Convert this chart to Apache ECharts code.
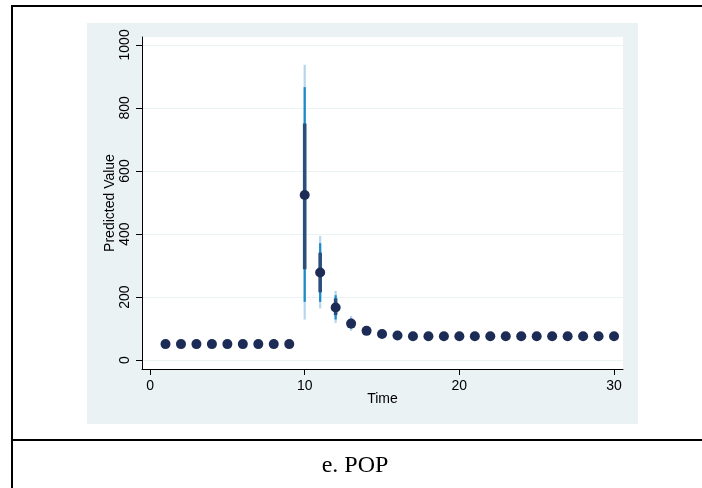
<!DOCTYPE html>
<html>
<head>
<meta charset="utf-8">
<script src="https://cdn.jsdelivr.net/npm/echarts@6/dist/echarts.min.js"></script>
<style>
html,body{margin:0;padding:0;background:#fff;}
#c{width:702px;height:488px;}
</style>
</head>
<body>
<div id="c"></div>
<script>
// ---- data ----
var times = [1,2,3,4,5,6,7,8,9,10,11,12,13,14,15,16,17,18,19,20,21,22,23,24,25,26,27,28,29,30];
var predicted = [51,51,51,51,51,51,51,51,51,524,278,167,116,93,83,78,76,76,76,76,76,76,76,76,76,76,76,76,76,76];
// 99% CI (outer, light)
var ciOuterLo = [49,49,49,49,49,49,49,49,49,129,164,118,93,84,77,73,72,72,72,72,72,72,72,72,72,72,72,72,72,72];
var ciOuterHi = [53,53,53,53,53,53,53,53,53,937,394,220,140,102,89,83,80,80,80,80,80,80,80,80,80,80,80,80,80,80];
// 95% CI (middle)
var ciMidLo = [50,50,50,50,50,50,50,50,50,185,185,129,100,86,79,75,73,73,73,73,73,73,73,73,73,73,73,73,73,73];
var ciMidHi = [52,52,52,52,52,52,52,52,52,866,371,206,132,100,87,81,79,79,79,79,79,79,79,79,79,79,79,79,79,79];
// 83% CI (inner, thick)
var ciInLo = [50,50,50,50,50,50,50,50,50,288,215,143,106,88,80,76,74,74,74,74,74,74,74,74,74,74,74,74,74,74];
var ciInHi = [52,52,52,52,52,52,52,52,52,751,341,196,125,98,86,80,78,78,78,78,78,78,78,78,78,78,78,78,78,78];
var yTicks = [0,200,400,600,800,1000];
var xTicks = [0,10,20,30];
var caption = 'e. POP';

var ciData = times.map(function(t,i){
  return [t, ciOuterLo[i], ciOuterHi[i], ciMidLo[i], ciMidHi[i], ciInLo[i], ciInHi[i]];
});
var ptData = times.map(function(t,i){ return [t, predicted[i]]; });

var chart = echarts.init(document.getElementById('c'), null, {renderer:'canvas'});
var font = '"Liberation Sans", Arial, Helvetica, sans-serif';

function renderCI(params, api){
  var t = api.value(0);
  var specs = [
    [1,2,'#b5d6ee',2.2],
    [3,4,'#1a8bc6',2.2],
    [5,6,'#2b4f7c',3.6]
  ];
  var children = specs.map(function(s){
    var p1 = api.coord([t, api.value(s[0])]);
    var p2 = api.coord([t, api.value(s[1])]);
    return {type:'line', shape:{x1:p1[0],y1:p1[1],x2:p2[0],y2:p2[1]},
            style:{stroke:s[2], lineWidth:s[3]}};
  });
  return {type:'group', children:children};
}

var option = {
  animation:false,
  backgroundColor:'#ffffff',
  graphic:[
    {type:'rect', z:-10, silent:true, shape:{x:87,y:23,width:551,height:401}, style:{fill:'#eaf2f3'}},
    {type:'line', silent:true, shape:{x1:11,y1:6,x2:702,y2:6}, style:{stroke:'#000',lineWidth:2}},
    {type:'line', silent:true, shape:{x1:12,y1:5,x2:12,y2:488}, style:{stroke:'#000',lineWidth:2}},
    {type:'line', silent:true, shape:{x1:11,y1:440,x2:702,y2:440}, style:{stroke:'#000',lineWidth:2}},
    {type:'text', silent:true, style:{text:caption, x:355, y:466, align:'center', verticalAlign:'middle',
      font:'24px "Liberation Serif", "Times New Roman", serif', fill:'#000'}}
  ],
  grid:{left:142, right:79, top:37, bottom:119, show:true, backgroundColor:'#ffffff', borderWidth:0},
  xAxis:{
    type:'value', min:-0.52, max:30.58,
    name:'Time', nameLocation:'middle', nameGap:23, nameMoveOverlap:false,
    nameTextStyle:{fontFamily:font, fontSize:14, color:'#000'},
    axisLine:{show:true, onZero:false, lineStyle:{color:'#000', width:1}},
    axisTick:{show:true, length:6, lineStyle:{color:'#000'}, customValues:xTicks},
    axisLabel:{fontFamily:font, fontSize:14, color:'#000', margin:10, customValues:xTicks,
      formatter:function(v){return String(v);}},
    splitLine:{show:false}
  },
  yAxis:{
    type:'value', min:-28, max:1025,
    name:'Predicted Value', nameLocation:'middle', nameGap:25, nameRotate:90, nameMoveOverlap:false,
    nameTextStyle:{fontFamily:font, fontSize:14, color:'#000'},
    axisLine:{show:true, onZero:false, lineStyle:{color:'#000', width:1}},
    axisTick:{show:true, length:6, lineStyle:{color:'#000'}, customValues:yTicks},
    axisLabel:{fontFamily:font, fontSize:14, color:'#000', margin:10, rotate:90, customValues:yTicks,
      formatter:function(v){return String(v);}},
    splitLine:{show:true, lineStyle:{color:'#eaf2f3', width:1}}
  },
  series:[
    {type:'custom', renderItem:renderCI, data:ciData, encode:{x:0, y:[1,2]}, z:2, silent:true},
    {type:'scatter', data:ptData, symbol:'circle', symbolSize:10, z:3,
      itemStyle:{color:'#1c2c56', opacity:1}, silent:true}
  ]
};
chart.setOption(option);
</script>
</body>
</html>
